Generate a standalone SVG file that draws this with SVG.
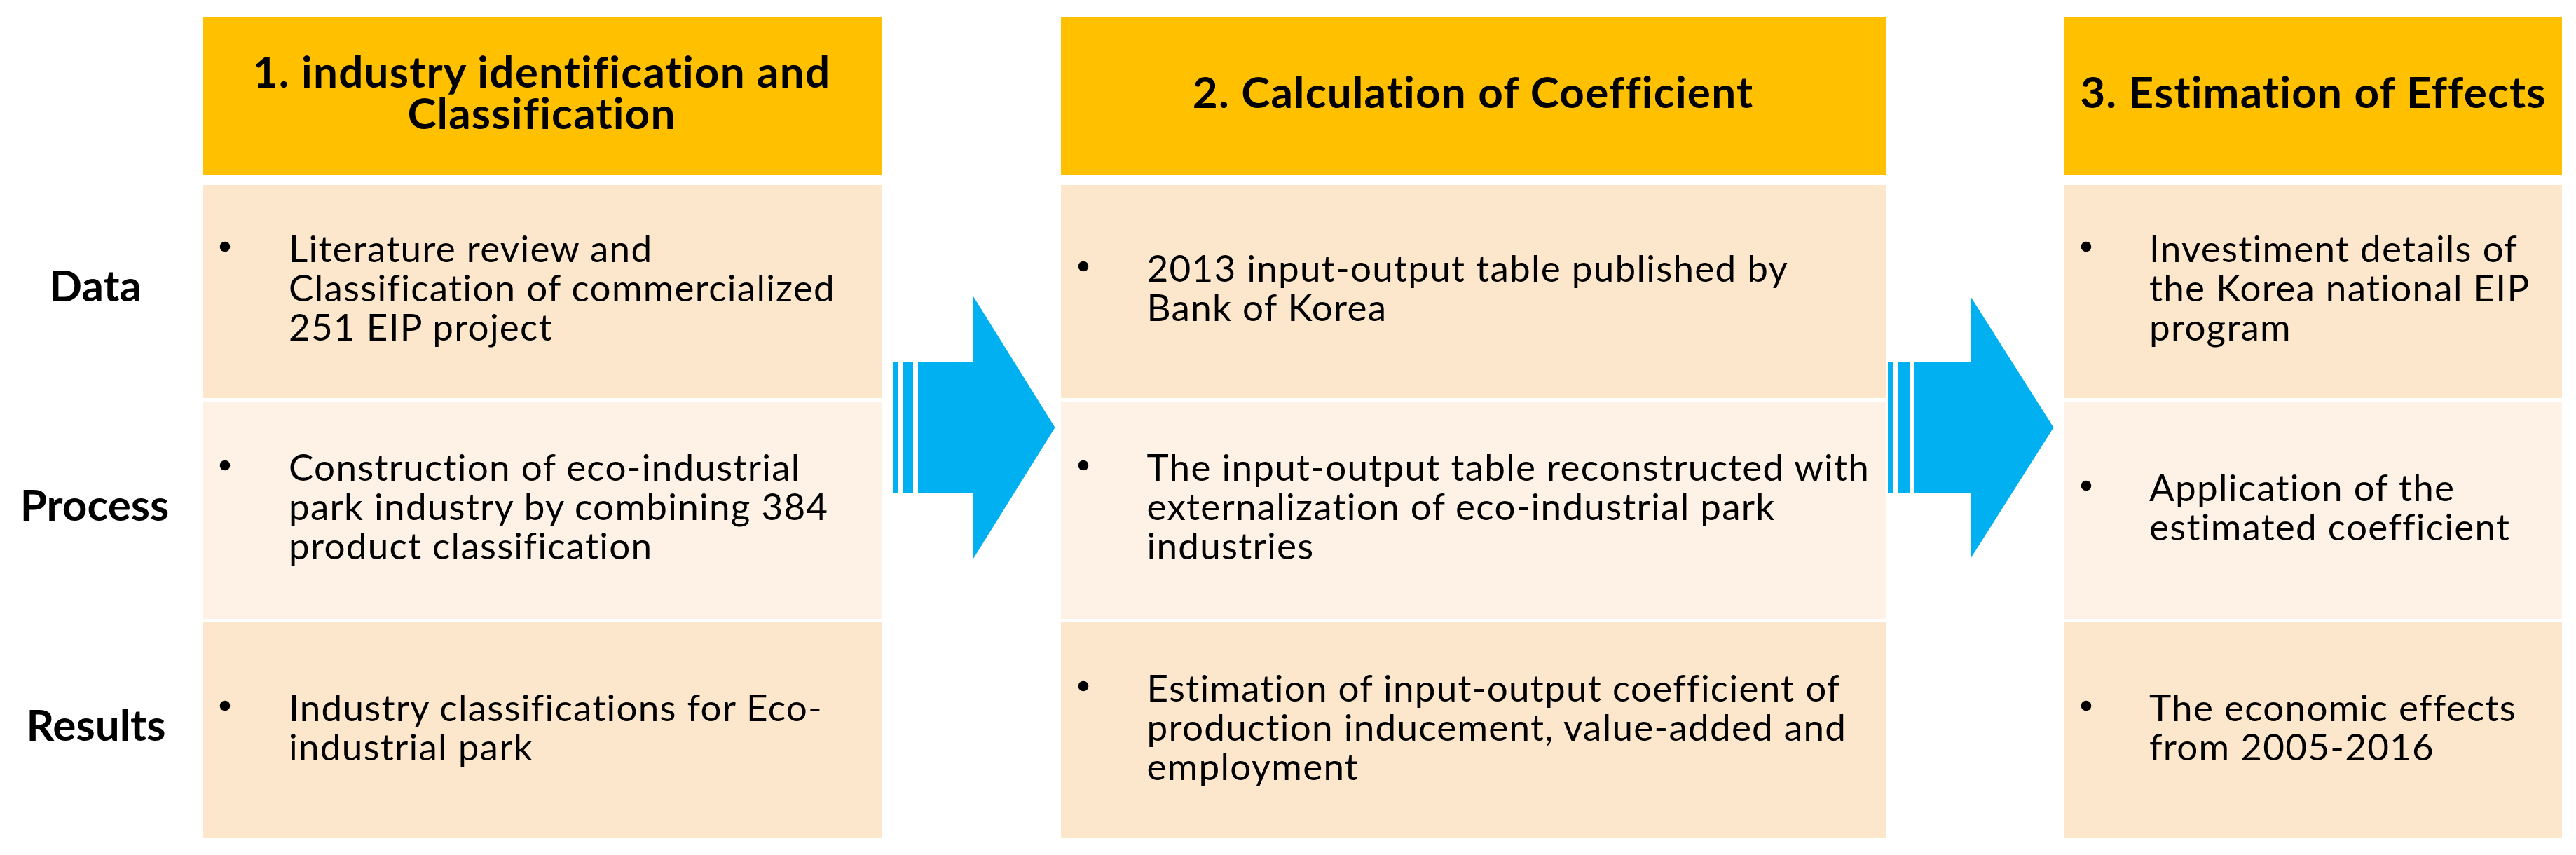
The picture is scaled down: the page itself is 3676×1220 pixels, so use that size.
<svg xmlns="http://www.w3.org/2000/svg" width="3676" height="1220" viewBox="0 0 3676 1220">
<style>
.bg{fill:#ffffff}
.hdr{fill:#FFC000}
.r1{fill:#FDE7CC}
.r2{fill:#FEF2E6}
.arr{fill:#00B0F0}
text{font-family:Lato,"Liberation Sans",sans-serif;fill:#000}
.h{font-size:62px;font-weight:bold;text-anchor:middle;letter-spacing:1.2px}
.lbl{font-size:62px;font-weight:bold;text-anchor:middle}
.t{font-size:53px;letter-spacing:1.25px}
.dot{fill:#000}
</style>
<rect class="bg" x="0" y="0" width="3676" height="1220"/>

<g id="labels">
  <text class="lbl" x="136" y="430">Data</text>
  <text class="lbl" x="135" y="743">Process</text>
  <text class="lbl" x="137" y="1057">Results</text>
</g>

<g id="step1">
  <rect class="hdr" x="289" y="24" width="969" height="226"/>
  <text class="h" x="773" y="125">1. industry identification and</text>
  <text class="h" x="773" y="184">Classification</text>
</g>
<g id="step1-data">
  <rect class="r1" x="289" y="264" width="969" height="304"/>
  <circle class="dot" cx="321" cy="352" r="7.3"/>
  <text class="t" x="412" y="374">Literature review and</text>
  <text class="t" x="412" y="430">Classification of commercialized</text>
  <text class="t" x="412" y="486">251 EIP project</text>
</g>
<g id="step1-process">
  <rect class="r2" x="289" y="573.5" width="969" height="309.5"/>
  <circle class="dot" cx="321" cy="664" r="7.3"/>
  <text class="t" x="412" y="686">Construction of eco-industrial</text>
  <text class="t" x="412" y="742">park industry by combining 384</text>
  <text class="t" x="412" y="798">product classification</text>
</g>
<g id="step1-results">
  <rect class="r1" x="289" y="888" width="969" height="308"/>
  <circle class="dot" cx="321" cy="1007" r="7.3"/>
  <text class="t" x="412" y="1029">Industry classifications for Eco-</text>
  <text class="t" x="412" y="1085">industrial park</text>
</g>

<g id="step2">
  <rect class="hdr" x="1514" y="24" width="1177.5" height="226"/>
  <text class="h" x="2102" y="154">2. Calculation of Coefficient</text>
</g>
<g id="step2-data">
  <rect class="r1" x="1514" y="264" width="1177.5" height="304"/>
  <circle class="dot" cx="1546" cy="380" r="7.3"/>
  <text class="t" x="1636.5" y="402">2013 input-output table published by</text>
  <text class="t" x="1636.5" y="458">Bank of Korea</text>
</g>
<g id="step2-process">
  <rect class="r2" x="1514" y="573.5" width="1177.5" height="309.5"/>
  <circle class="dot" cx="1546" cy="664" r="7.3"/>
  <text class="t" x="1636.5" y="686">The input-output table reconstructed with</text>
  <text class="t" x="1636.5" y="742">externalization of eco-industrial park</text>
  <text class="t" x="1636.5" y="798">industries</text>
</g>
<g id="step2-results">
  <rect class="r1" x="1514" y="888" width="1177.5" height="308"/>
  <circle class="dot" cx="1546" cy="979" r="7.3"/>
  <text class="t" x="1636.5" y="1001">Estimation of input-output coefficient of</text>
  <text class="t" x="1636.5" y="1057">production inducement, value-added and</text>
  <text class="t" x="1636.5" y="1113">employment</text>
</g>

<g id="step3">
  <rect class="hdr" x="2945" y="24" width="711" height="226"/>
  <text class="h" x="3301" y="154">3. Estimation of Effects</text>
</g>
<g id="step3-data">
  <rect class="r1" x="2945" y="264" width="711" height="304"/>
  <circle class="dot" cx="2977" cy="352" r="7.3"/>
  <text class="t" x="3067" y="374">Investiment details of</text>
  <text class="t" x="3067" y="430">the Korea national EIP</text>
  <text class="t" x="3067" y="486">program</text>
</g>
<g id="step3-process">
  <rect class="r2" x="2945" y="573.5" width="711" height="309.5"/>
  <circle class="dot" cx="2977" cy="693" r="7.3"/>
  <text class="t" x="3067" y="715">Application of the</text>
  <text class="t" x="3067" y="771">estimated coefficient</text>
</g>
<g id="step3-results">
  <rect class="r1" x="2945" y="888" width="711" height="308"/>
  <circle class="dot" cx="2977" cy="1007" r="7.3"/>
  <text class="t" x="3067" y="1029">The economic effects</text>
  <text class="t" x="3067" y="1085">from 2005-2016</text>
</g>

<g id="connectors">
  <g id="arrow1">
    <rect class="arr" x="1274" y="517" width="8" height="187"/>
    <rect class="arr" x="1288" y="517" width="15" height="187"/>
    <polygon class="arr" points="1310,517 1389,517 1389,423 1505.5,610 1389,797 1389,704 1310,704"/>
  </g>
  <g id="arrow2">
    <rect class="arr" x="2694" y="517" width="8" height="187"/>
    <rect class="arr" x="2709" y="517" width="16" height="187"/>
    <polygon class="arr" points="2731,517 2812,517 2812,423 2930.5,610 2812,797 2812,704 2731,704"/>
  </g>
</g>
</svg>
